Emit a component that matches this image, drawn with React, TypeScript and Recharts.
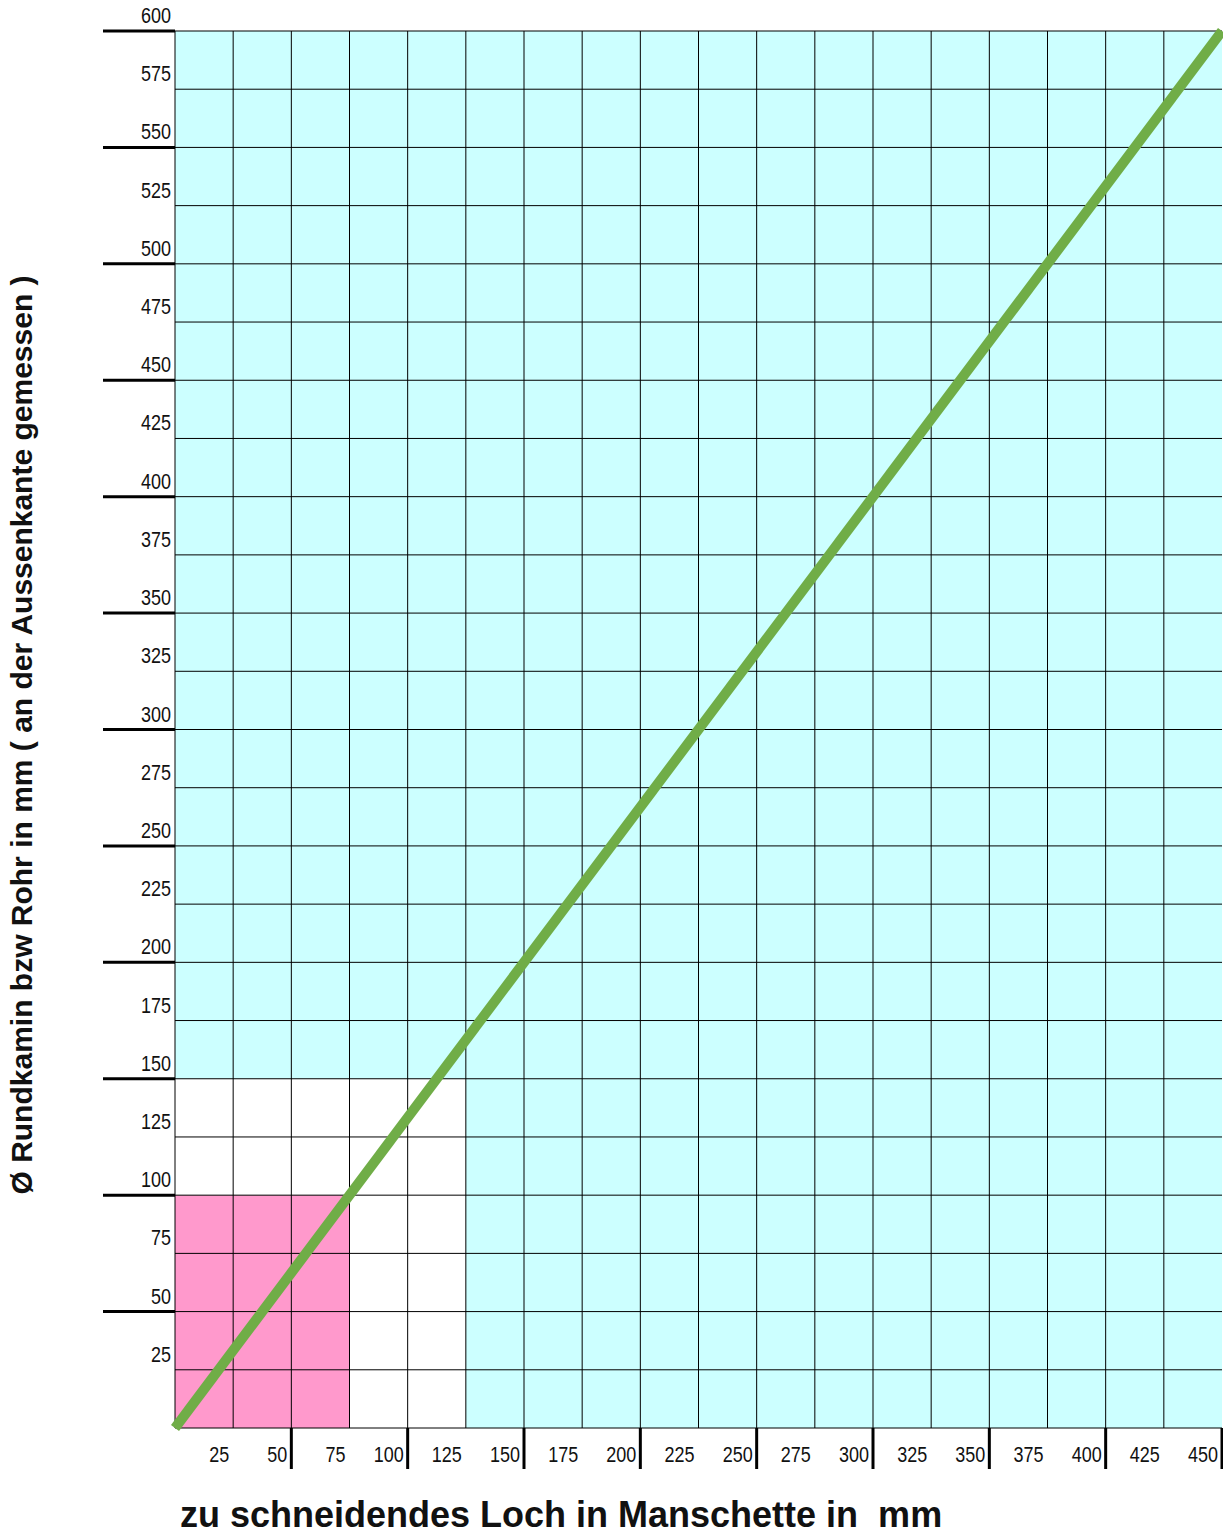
import React from "react";
import {
  ComposedChart,
  Line,
  XAxis,
  YAxis,
  ReferenceArea,
  ReferenceLine,
} from "recharts";

// x: Loch in Manschette (mm), y: Ø Rohr (mm)
const linePoints = [
  { x: 0, y: 0 },
  { x: 450, y: 600 },
];

const xTicks = [25, 50, 75, 100, 125, 150, 175, 200, 225, 250, 275, 300, 325, 350, 375, 400, 425, 450];
const yTicks = [
  25, 50, 75, 100, 125, 150, 175, 200, 225, 250, 275, 300, 325, 350, 375, 400, 425, 450, 475, 500, 525,
  550, 575, 600,
];
const xGrid = [0, ...xTicks.slice(0, -1)];
const yGrid = [0, ...yTicks];

// coloured zones
const zones = [
  { x1: 0, x2: 450, y1: 0, y2: 600, fill: "#ccffff" },
  { x1: 0, x2: 125, y1: 0, y2: 150, fill: "#ffffff" },
  { x1: 0, x2: 75, y1: 0, y2: 100, fill: "#ff99cc" },
];

const FONT = "'Liberation Sans', Arial, sans-serif";

// narrow digits like the original (Arial Narrow look)
const NarrowText = ({ x, y, v }: { x: number; y: number; v: number }) => (
  <text
    x={x}
    y={y}
    textAnchor="end"
    fontFamily={FONT}
    fontSize={22}
    fill="#111"
    textLength={String(v).length * 10}
    lengthAdjust="spacingAndGlyphs"
  >
    {v}
  </text>
);

const YTick = (props: any) => {
  const { x, y, payload } = props;
  const v = payload.value;
  return (
    <g>
      {v % 50 === 0 && <line x1={x - 72} x2={x} y1={y} y2={y} stroke="#000" strokeWidth={3} />}
      <NarrowText x={x - 4} y={y - 8} v={v} />
    </g>
  );
};

const XTick = (props: any) => {
  const { x, y, payload } = props;
  const v = payload.value;
  return (
    <g>
      {v % 50 === 0 && <line x1={x} x2={x} y1={y} y2={y + 41} stroke="#000" strokeWidth={3} />}
      <NarrowText x={x - 4} y={y + 34} v={v} />
    </g>
  );
};

export default function App() {
  return (
    <div style={{ position: "absolute", left: 0, top: 0, width: 1223, height: 1534, background: "#fff" }}>
      <ComposedChart
        width={1223}
        height={1534}
        data={linePoints}
        margin={{ top: 31, right: 1, left: 0, bottom: 0 }}
      >
        <XAxis
          type="number"
          dataKey="x"
          domain={[0, 450]}
          ticks={xTicks}
          height={106}
          axisLine={false}
          tickLine={false}
          tickSize={0}
          tickMargin={0}
          tick={(p: any) => <XTick {...p} />}
          interval={0}
        />
        <YAxis
          type="number"
          domain={[0, 600]}
          ticks={yTicks}
          width={175}
          axisLine={false}
          tickLine={false}
          tickSize={0}
          tickMargin={0}
          tick={(p: any) => <YTick {...p} />}
          interval={0}
        />
        {zones.map((z, i) => (
          <ReferenceArea
            key={`z${i}`}
            x1={z.x1}
            x2={z.x2}
            y1={z.y1}
            y2={z.y2}
            fill={z.fill}
            fillOpacity={1}
            stroke="none"
            ifOverflow="visible"
          />
        ))}
        {xGrid.map((v) => (
          <ReferenceLine key={`gx${v}`} x={v} stroke="#000" strokeWidth={1} strokeOpacity={1} ifOverflow="visible" />
        ))}
        {yGrid.map((v) => (
          <ReferenceLine key={`gy${v}`} y={v} stroke="#000" strokeWidth={1} strokeOpacity={1} ifOverflow="visible" />
        ))}
        <Line
          type="linear"
          dataKey="y"
          stroke="#70ad47"
          strokeWidth={10}
          dot={false}
          activeDot={false}
          isAnimationActive={false}
        />
      </ComposedChart>
      <div
        style={{
          position: "absolute",
          left: 22,
          top: 735,
          transform: "translate(-50%, -50%) rotate(-90deg)",
          whiteSpace: "pre",
          fontFamily: FONT,
          fontWeight: "bold",
          fontSize: 30,
          color: "#111",
        }}
      >
        Ø Rundkamin bzw Rohr in mm ( an der Aussenkante gemessen )
      </div>
      <div
        style={{
          position: "absolute",
          left: 180,
          top: 1497,
          whiteSpace: "pre",
          fontFamily: FONT,
          fontWeight: "bold",
          fontSize: 36,
          lineHeight: "36px",
          color: "#111",
        }}
      >
        zu schneidendes Loch in Manschette in  mm
      </div>
    </div>
  );
}
